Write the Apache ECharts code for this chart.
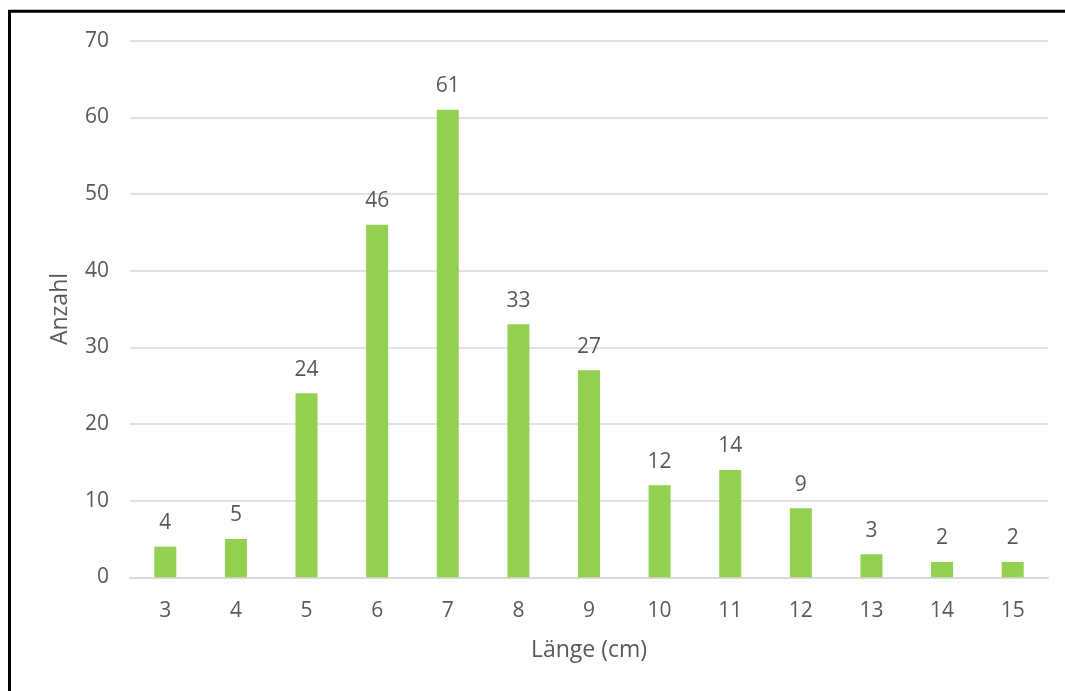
<!DOCTYPE html>
<html>
<head>
<meta charset="utf-8">
<script src="https://cdn.jsdelivr.net/npm/echarts@6/dist/echarts.min.js"></script>
<style>
  html, body { margin: 0; padding: 0; background: #fff; }
  #chart { width: 1065px; height: 691px; }
</style>
</head>
<body>
<div id="chart"></div>
<script>
// Längenverteilung: Anzahl je Länge in cm
const lengths = ['3', '4', '5', '6', '7', '8', '9', '10', '11', '12', '13', '14', '15'];
const counts = [4, 5, 24, 46, 61, 33, 27, 12, 14, 9, 3, 2, 2];
const yTicks = [0, 10, 20, 30, 40, 50, 60, 70];

const textColor = '#595959';
const fontFamily = '"Open Sans", "Liberation Sans", sans-serif';

const chart = echarts.init(document.getElementById('chart'), null, { renderer: 'canvas' });

chart.setOption({
  animation: false,
  backgroundColor: '#ffffff',
  grid: { left: 130, right: 17, top: 40.7, bottom: 113.7, containLabel: false },
  graphic: [
    {
      type: 'polyline',
      shape: { points: [[9.5, 691], [9.5, 11.3], [1065, 11.3]] },
      style: { stroke: '#000', lineWidth: 3, fill: null }
    }
  ],
  xAxis: {
    type: 'category',
    data: lengths,
    name: 'Länge (cm)',
    nameLocation: 'middle',
    nameGap: 62,
    nameTextStyle: { color: textColor, fontSize: 23, fontFamily },
    axisLine: { show: true, lineStyle: { color: '#d9d9d9', width: 2 } },
    axisTick: { show: false },
    axisLabel: { color: textColor, fontSize: 21, fontFamily, margin: 23 }
  },
  yAxis: {
    type: 'value',
    min: yTicks[0],
    max: yTicks[yTicks.length - 1],
    interval: 10,
    name: 'Anzahl',
    nameLocation: 'middle',
    nameGap: 58,
    nameRotate: 90,
    nameTextStyle: { color: textColor, fontSize: 23, fontFamily },
    axisLine: { show: false },
    axisTick: { show: false },
    axisLabel: { color: textColor, fontSize: 21, fontFamily, margin: 21 },
    splitLine: { lineStyle: { color: '#d9d9d9', width: 1.5 } }
  },
  series: [
    {
      type: 'bar',
      data: counts,
      barWidth: 22,
      itemStyle: { color: '#92d050' },
      label: {
        show: true,
        position: 'top',
        distance: 13,
        color: textColor,
        fontSize: 21,
        fontFamily
      }
    }
  ]
});
</script>
</body>
</html>
